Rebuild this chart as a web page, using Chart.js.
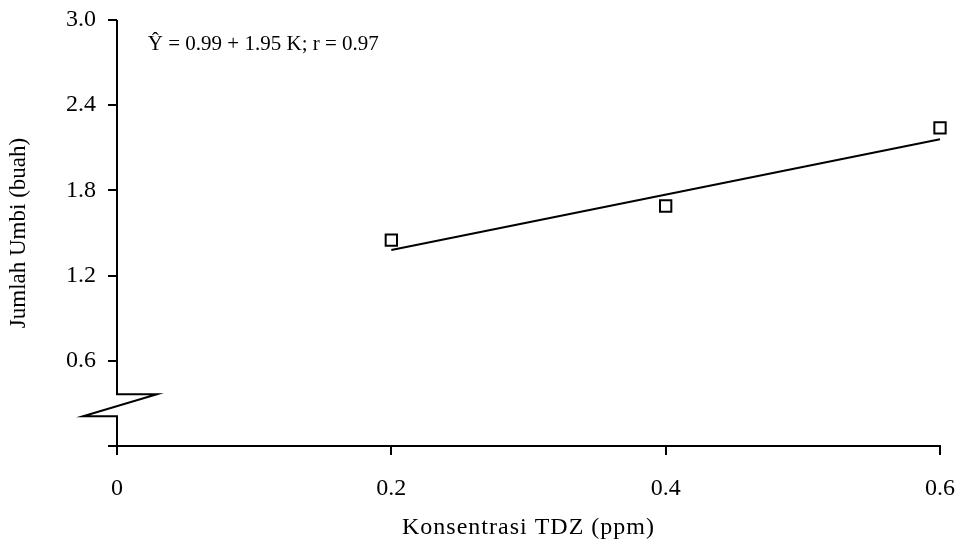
<!DOCTYPE html>
<html>
<head>
<meta charset="utf-8">
<script src="https://cdn.jsdelivr.net/npm/chart.js@4.4.1/dist/chart.umd.min.js"></script>
<style>
  html, body { margin: 0; padding: 0; background: #fff; }
  #wrap { width: 962px; height: 547px; }
</style>
</head>
<body>
<div id="wrap"><canvas id="myChart" width="962" height="547"></canvas></div>
<script>
// TDZ concentration (ppm) and observed number of tubers
const konsentrasi = [0.2, 0.4, 0.6];
const jumlahUmbi = [1.45, 1.69, 2.24];

// regression stated on the chart: Y = 0.99 + 1.95 K
const intercept = 0.99;
const slope = 1.95;
const rValue = 0.97;

// axis ticks
const xTicks = [0, 0.2, 0.4, 0.6];
const xTickLabels = ['0', '0.2', '0.4', '0.6'];
const yTicks = [0, 0.6, 1.2, 1.8, 2.4, 3.0];
const yTickLabels = ['', '0.6', '1.2', '1.8', '2.4', '3.0'];

const xTitle = 'Konsentrasi TDZ (ppm)';
const yTitle = 'Jumlah Umbi (buah)';

const serif = "'Liberation Serif', 'Times New Roman', serif";

// regression line over the measured range
const kMin = konsentrasi[0];
const kMax = konsentrasi[konsentrasi.length - 1];
const garis = [
    { x: kMin, y: intercept + slope * kMin },
    { x: kMax, y: intercept + slope * kMax }
];

// y axis with a broken segment near the bottom, equation and x title
const axisBreak = {
    id: 'axisBreak',
    afterDraw(chart) {
        const { ctx, chartArea, scales: { x, y } } = chart;
        const ax = Math.round(x.getPixelForValue(0));
        const top = y.getPixelForValue(3.0);
        const bot = y.getPixelForValue(0);
        const b1 = y.getPixelForValue(0.365);
        const b2 = y.getPixelForValue(0.21);
        ctx.save();
        ctx.strokeStyle = '#000';
        ctx.lineWidth = 2;
        ctx.beginPath();
        ctx.moveTo(ax, top);
        ctx.lineTo(ax, b1);
        ctx.lineTo(ax + 40, b1);
        ctx.lineTo(ax - 34, b2);
        ctx.lineTo(ax, b2);
        ctx.lineTo(ax, bot);
        ctx.stroke();

        // equation
        ctx.fillStyle = '#000';
        ctx.font = "21px " + serif;
        ctx.textAlign = 'left';
        ctx.textBaseline = 'middle';
        const txt = '\u0176 = ' + intercept.toFixed(2) + ' + ' + slope.toFixed(2) + ' K; r = ' + rValue.toFixed(2);
        ctx.fillText(txt, x.getPixelForValue(0.0225), y.getPixelForValue(2.83));

        // x axis title, slightly spaced out
        ctx.font = "24px " + serif;
        ctx.letterSpacing = '1px';
        ctx.textAlign = 'center';
        ctx.fillText(xTitle, (chartArea.left + chartArea.right) / 2, 528);
        ctx.restore();
    }
};

const ctx = document.getElementById('myChart').getContext('2d');

const myChart = new Chart(ctx, {
    type: 'scatter',
    data: {
        datasets: [{
            label: 'Jumlah Umbi',
            data: konsentrasi.map((k, i) => ({ x: k, y: jumlahUmbi[i] })),
            pointStyle: 'rect',
            pointRadius: 8,
            pointBorderWidth: 2,
            pointBackgroundColor: '#fff',
            pointBorderColor: '#000',
            showLine: false,
            clip: false
        }, {
            label: 'Regresi',
            data: garis,
            showLine: true,
            borderColor: '#000',
            borderWidth: 2,
            pointRadius: 0,
            clip: false
        }]
    },
    options: {
        responsive: false,
        animation: false,
        layout: { padding: 0 },
        plugins: {
            legend: { display: false },
            tooltip: { enabled: false }
        },
        scales: {
            x: {
                type: 'linear',
                min: 0,
                max: 0.6,
                afterBuildTicks: scale => { scale.ticks = xTicks.map(v => ({ value: v })); },
                afterFit: scale => {
                    scale.height = 101;
                    scale.paddingLeft = 0;
                    scale.paddingRight = 22;
                },
                ticks: {
                    color: '#000',
                    font: { family: serif, size: 24 },
                    padding: 19,
                    maxRotation: 0,
                    callback: (v, i) => xTickLabels[i]
                },
                grid: { drawOnChartArea: false, drawTicks: true, tickLength: 9, color: '#000', lineWidth: 2 },
                border: { display: true, color: '#000', width: 2 },
                title: { display: false }
            },
            y: {
                type: 'linear',
                min: 0,
                max: 3.0,
                afterBuildTicks: scale => { scale.ticks = yTicks.map(v => ({ value: v })); },
                afterFit: scale => {
                    scale.width = 117;
                    scale.paddingTop = 20;
                    scale.paddingBottom = 0;
                },
                ticks: {
                    color: '#000',
                    font: { family: serif, size: 24 },
                    padding: 12,
                    callback: (v, i) => yTickLabels[i]
                },
                grid: { drawOnChartArea: false, drawTicks: true, tickLength: 9, color: '#000', lineWidth: 2 },
                border: { display: false },
                title: {
                    display: true,
                    text: yTitle,
                    color: '#000',
                    font: { family: serif, size: 23 },
                    padding: { top: 5, bottom: 0 }
                }
            }
        }
    },
    plugins: [axisBreak]
});
</script>
</body>
</html>
